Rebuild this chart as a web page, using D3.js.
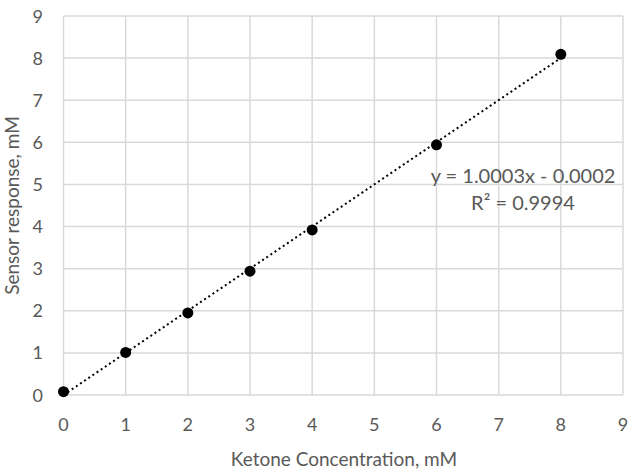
<!DOCTYPE html>
<html>
<head>
<meta charset="utf-8">
<script src="https://cdn.jsdelivr.net/npm/d3@7"></script>
<style>
  body { margin: 0; background: #fff; }
  text { font-family: Lato, "Open Sans", sans-serif; fill: #595959; }
</style>
</head>
<body>
<div id="chart"></div>
<script>
const concentrations = [0, 1, 2, 3, 4, 6, 8];
const responses = [0.08, 1.01, 1.95, 2.94, 3.92, 5.94, 8.09];
const xTicks = [0, 1, 2, 3, 4, 5, 6, 7, 8, 9];
const yTicks = [0, 1, 2, 3, 4, 5, 6, 7, 8, 9];
const slope = 1.0003;
const intercept = -0.0002;
const equationLines = ['y = 1.0003x - 0.0002', 'R\u00b2 = 0.9994'];

const width = 638;
const height = 476;
const margin = { top: 16, right: 15, bottom: 81, left: 63.5 };

const svg = d3.select('#chart')
  .append('svg')
  .attr('width', width)
  .attr('height', height);

const x = d3.scaleLinear()
  .domain([0, 9])
  .range([margin.left, width - margin.right]);

const y = d3.scaleLinear()
  .domain([0, 9])
  .range([height - margin.bottom, margin.top]);

// gridlines
svg.append('g')
  .selectAll('line')
  .data(xTicks)
  .join('line')
    .attr('x1', d => x(d))
    .attr('x2', d => x(d))
    .attr('y1', y(0))
    .attr('y2', y(9))
    .attr('stroke', '#d9d9d9')
    .attr('stroke-width', 1.5);

svg.append('g')
  .selectAll('line')
  .data(yTicks)
  .join('line')
    .attr('x1', x(0))
    .attr('x2', x(9))
    .attr('y1', d => y(d))
    .attr('y2', d => y(d))
    .attr('stroke', '#d9d9d9')
    .attr('stroke-width', 1.5);

// tick labels
svg.append('g')
  .selectAll('text')
  .data(yTicks)
  .join('text')
    .attr('x', 43)
    .attr('y', d => y(d) + 6.5)
    .attr('text-anchor', 'end')
    .style('font-size', '18px')
    .text(d => d);

svg.append('g')
  .selectAll('text')
  .data(xTicks)
  .join('text')
    .attr('x', d => x(d))
    .attr('y', 431)
    .attr('text-anchor', 'middle')
    .style('font-size', '18px')
    .text(d => d);

// axis titles
svg.append('text')
  .attr('x', 344)
  .attr('y', 466)
  .attr('text-anchor', 'middle')
  .style('font-size', '19px')
  .text('Ketone Concentration, mM');

svg.append('text')
  .attr('transform', `translate(19, ${(y(0) + y(9)) / 2}) rotate(-90)`)
  .attr('text-anchor', 'middle')
  .style('font-size', '19px')
  .text('Sensor response, mM');

// trendline
const fit = d3.line()
  .x(d => x(d))
  .y(d => y(slope * d + intercept));

svg.append('path')
  .datum([0, 8])
  .attr('fill', 'none')
  .attr('stroke', '#000')
  .attr('stroke-width', 2)
  .attr('stroke-dasharray', '2,3')
  .attr('d', fit);

// points
svg.append('g')
  .selectAll('circle')
  .data(concentrations)
  .join('circle')
    .attr('cx', d => x(d))
    .attr('cy', (d, i) => y(responses[i]))
    .attr('r', 5.5)
    .attr('fill', '#000');

// equation label
svg.append('g')
  .selectAll('text')
  .data(equationLines)
  .join('text')
    .attr('x', 523)
    .attr('y', (d, i) => 183 + i * 27)
    .attr('text-anchor', 'middle')
    .style('font-size', '20px')
    .text(d => d);
</script>
</body>
</html>
